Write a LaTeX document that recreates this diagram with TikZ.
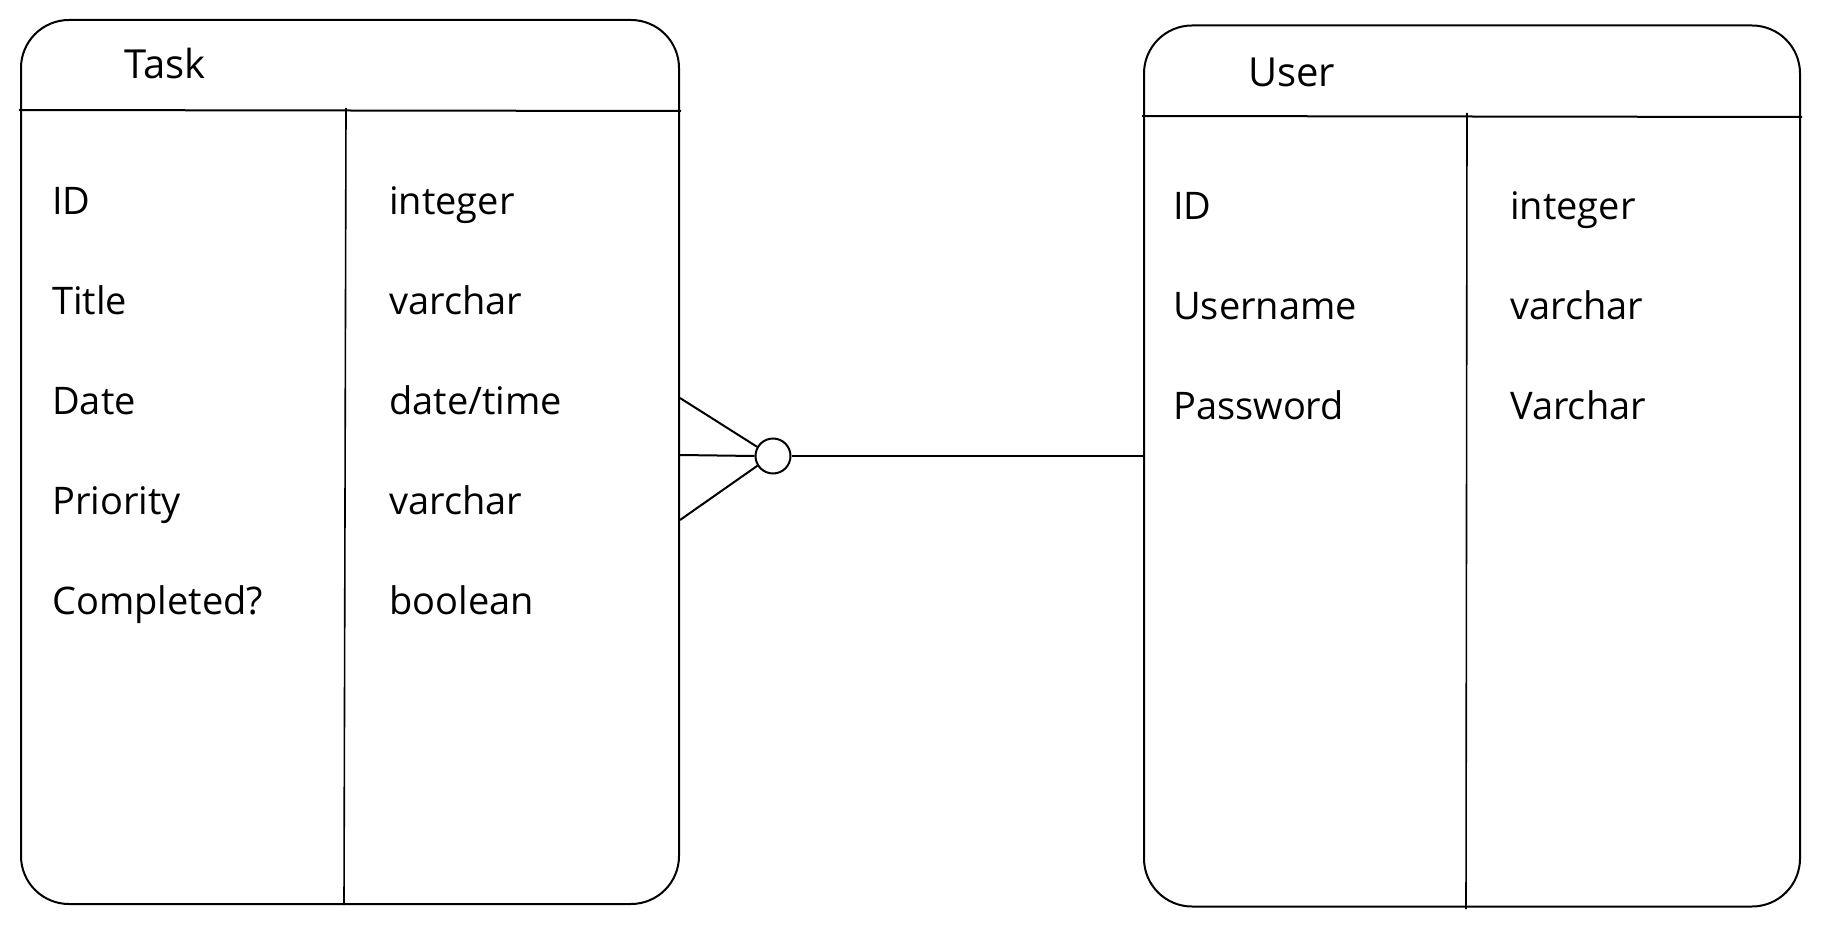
\documentclass[tikz,border=0pt]{standalone}
\usepackage{fontspec}
\setmainfont{Open Sans}
\begin{document}
\begin{tikzpicture}[x=1pt,y=-1pt,
  tbl/.style={draw, line width=2pt, rounded corners=48pt, inner sep=0pt},
  rule/.style={line width=2pt},
  txt/.style={anchor=base west, inner sep=0pt, font=\fontsize{38}{44}\selectfont},
  ttl/.style={anchor=base west, inner sep=0pt, font=\fontsize{40}{46}\selectfont}]
\useasboundingbox (0,0) rectangle (1821,931);
% Task table
\node[tbl, minimum width=658pt, minimum height=884pt] (task) at (350,462) {};
\coordinate (th1) at (19,110);
\coordinate (th2) at (681,111);
\draw[rule] (th1) -- (th2);
\coordinate (td1) at (346,108);
\coordinate (td2) at (344,905);
\draw[line width=1.6pt] (td1) -- (td2);
\node[ttl] (tasktitle) at (124,79) {Task};
\node[txt] (t1a) at (52,214) {ID};
\node[txt] (t1b) at (389,214) {integer};
\node[txt] (t2a) at (52,314) {Title};
\node[txt] (t2b) at (389,314) {varchar};
\node[txt] (t3a) at (52,414) {Date};
\node[txt] (t3b) at (389,414) {date/time};
\node[txt] (t4a) at (52,514) {Priority};
\node[txt] (t4b) at (389,514) {varchar};
\node[txt] (t5a) at (52,614) {Completed?};
\node[txt] (t5b) at (389,614) {boolean};
% User table
\node[tbl, minimum width=656pt, minimum height=881pt] (user) at (1472,466) {};
\coordinate (uh1) at (1142,116);
\coordinate (uh2) at (1802,117);
\draw[rule] (uh1) -- (uh2);
\coordinate (ud1) at (1467,113);
\coordinate (ud2) at (1466,909);
\draw[line width=1.6pt] (ud1) -- (ud2);
\node[ttl] (usertitle) at (1248,87) {User};
\node[txt] (u1a) at (1173,219) {ID};
\node[txt] (u1b) at (1510,219) {integer};
\node[txt] (u2a) at (1173,319) {Username};
\node[txt] (u2b) at (1510,319) {varchar};
\node[txt] (u3a) at (1173,419) {Password};
\node[txt] (u3b) at (1510,419) {Varchar};
% relationship: zero-or-many (crow's foot) to one
\node[draw, circle, line width=2pt, minimum size=35pt, inner sep=0pt] (opt) at (773,456) {};
\coordinate (cf1) at (task.east |- 0,398);
\coordinate (cf2) at (task.east |- 0,455);
\coordinate (cf3) at (task.east |- 0,520);
\draw[rule] (cf1) -- (opt.150);
\draw[rule] (cf2) -- (opt.west);
\draw[rule] (cf3) -- (opt.212);
\draw[rule] (opt.east) -- (opt.east -| user.west);
\end{tikzpicture}
\end{document}
